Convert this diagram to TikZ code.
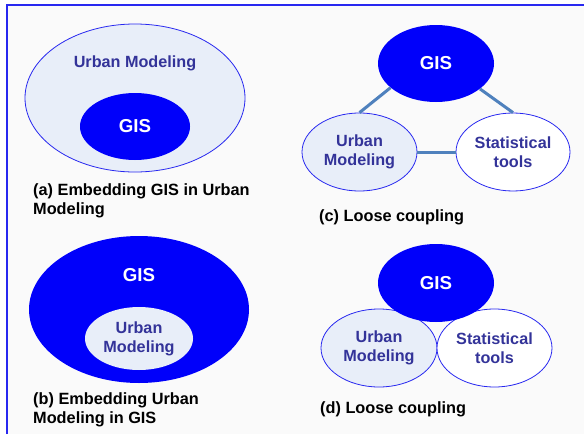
\documentclass[tikz,border=0pt]{standalone}
\usepackage{fontspec}
\setmainfont{Liberation Sans}
\usetikzlibrary{shapes.geometric}
\definecolor{gisblue}{RGB}{0,0,250}
\definecolor{paleblue}{RGB}{232,238,249}
\definecolor{rimblue}{RGB}{40,40,240}
\definecolor{labelblue}{RGB}{51,51,153}
\definecolor{linkblue}{RGB}{79,129,189}
\definecolor{panel}{RGB}{250,250,250}
\tikzset{
  x=1pt, y=-1pt,
  blob/.style={ellipse, inner sep=0pt, font=\bfseries\fontsize{16.2}{19}\selectfont, align=center},
  gisblob/.style={blob, fill=gisblue, text=white, font=\bfseries\fontsize{18.7}{20}\selectfont},
  umblob/.style={blob, fill=paleblue, draw=rimblue, line width=0.8pt, text=labelblue},
  stblob/.style={blob, fill=white, draw=rimblue, line width=0.8pt, text=labelblue},
  caption/.style={anchor=west, align=left, inner sep=0pt, font=\bfseries\fontsize{16.3}{19}\selectfont, text=black},
  conn/.style={draw=linkblue, line width=3pt},
}
\begin{document}
\begin{tikzpicture}
\useasboundingbox (0,0) rectangle (584,434);
% panel and frame
\fill[panel] (7,5) rectangle (584,434);
\draw[rimblue, line width=1.3pt] (7,434) -- (7,5) -- (584,5);

% (a) GIS embedded in urban modeling
\node[umblob, minimum width=220, minimum height=148] (ua) at (135,98) {};
\node[text=labelblue, font=\bfseries\fontsize{16.2}{19}\selectfont] (uatext) at (135,63) {Urban Modeling};
\node[gisblob, minimum width=110, minimum height=67] (ga) at (135,126.5) {GIS};
\node[caption] (capa) at (33,200.5) {(a) Embedding GIS in Urban\\Modeling};

% (b) urban modeling embedded in GIS
\node[gisblob, minimum width=220, minimum height=147] (gb) at (139,309.5) {};
\node[text=white, font=\bfseries\fontsize{18.7}{20}\selectfont] (gbtext) at (139,275) {GIS};
\node[blob, fill=paleblue, text=labelblue, minimum width=108, minimum height=63] (ub) at (139,338.5) {Urban\\Modeling};
\node[caption] (capb) at (33,409.5) {(b) Embedding Urban\\Modeling in GIS};

% (c) loose coupling with links
\node[gisblob, minimum width=116, minimum height=77] (gc) at (436,63.5) {GIS};
\node[umblob, minimum width=115, minimum height=78] (uc) at (359.5,152) {Urban\\Modeling};
\node[stblob, minimum width=114, minimum height=78] (sc) at (513,152) {Statistical\\tools};
\draw[conn] (gc.208) -- (uc.north);
\draw[conn] (gc.330) -- (sc.north);
\draw[conn] (uc.east) -- (sc.west);
\node[caption] (capc) at (319,217) {(c) Loose coupling};

% (d) loose coupling by overlap
\node[umblob, minimum width=116, minimum height=78] (ud) at (379,348) {Urban\\Modeling};
\node[stblob, minimum width=115, minimum height=78] (sd) at (494.5,348) {Statistical\\tools};
\node[gisblob, minimum width=116, minimum height=78] (gd) at (436,283) {GIS};
\node[caption] (capd) at (320,409) {(d) Loose coupling};
\end{tikzpicture}
\end{document}
